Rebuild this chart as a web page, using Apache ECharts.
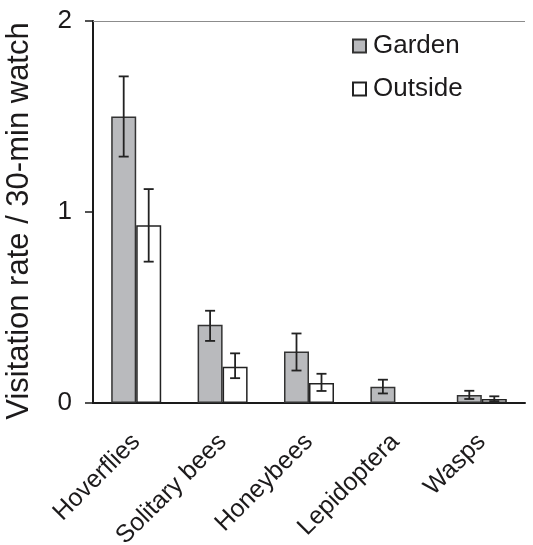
<!DOCTYPE html>
<html>
<head>
<meta charset="utf-8">
<script src="https://cdn.jsdelivr.net/npm/echarts@6/dist/echarts.min.js"></script>
<style>
  html, body { margin: 0; padding: 0; background: #fff; }
  #chart { width: 533px; height: 545px; }
</style>
</head>
<body>
<div id="chart"></div>
<script>
const categories = ['Hoverflies', 'Solitary bees', 'Honeybees', 'Lepidoptera', 'Wasps'];
const garden = [1.5, 0.41, 0.27, 0.085, 0.042];
const gardenLow = [1.29, 0.325, 0.17, 0.05, 0.021];
const gardenHigh = [1.71, 0.483, 0.364, 0.122, 0.064];
const outside = [0.93, 0.19, 0.105, 0, 0.021];
const outsideLow = [0.74, 0.13, 0.063, null, 0.01];
const outsideHigh = [1.12, 0.26, 0.153, null, 0.035];
const yTicks = [0, 1, 2];

const textColor = '#1c1a1b';
const barWidth = 25;

// error bars drawn from the low/high arrays, shifted to each bar's centre
function errorSeries(name, low, high, shift) {
  const data = categories.map((c, i) => low[i] == null ? [i, '-', '-'] : [i, low[i], high[i]]);
  return {
    type: 'custom',
    name: name + ' err',
    z: 10,
    silent: true,
    data: data,
    renderItem: function (params, api) {
      if (isNaN(api.value(1))) return null;
      const lo = api.coord([api.value(0), api.value(1)]);
      const hi = api.coord([api.value(0), api.value(2)]);
      const x = lo[0] + shift;
      const cap = 5;
      const style = { stroke: '#222', lineWidth: 1.8 };
      return {
        type: 'group',
        children: [
          { type: 'line', shape: { x1: x, y1: lo[1], x2: x, y2: hi[1] }, style: style },
          { type: 'line', shape: { x1: x - cap, y1: lo[1], x2: x + cap, y2: lo[1] }, style: style },
          { type: 'line', shape: { x1: x - cap, y1: hi[1], x2: x + cap, y2: hi[1] }, style: style }
        ]
      };
    }
  };
}

const chart = echarts.init(document.getElementById('chart'));
chart.setOption({
  animation: false,
  textStyle: { fontFamily: 'Liberation Sans, Arial, sans-serif', color: textColor },
  grid: { left: 93, top: 21, right: 8, bottom: 142, outerBoundsMode: 'none', containLabel: false },
  legend: {
    orient: 'vertical',
    left: 347,
    top: 27,
    itemWidth: 13,
    itemHeight: 13,
    itemGap: 15,
    icon: 'rect',
    textStyle: { fontSize: 26, lineHeight: 28, color: textColor, padding: [0, 0, 0, 2] },
    data: ['Garden', 'Outside']
  },
  xAxis: {
    type: 'category',
    data: categories,
    axisLine: { lineStyle: { color: '#1a1a1a', width: 2 } },
    axisTick: { length: 8, lineStyle: { color: '#1a1a1a', width: 1.5 } },
    axisLabel: { rotate: 45, fontSize: 25, color: textColor, margin: 35, interval: 0 }
  },
  yAxis: {
    type: 'value',
    min: yTicks[0],
    max: yTicks[yTicks.length - 1],
    interval: 1,
    name: 'Visitation rate / 30-min watch',
    nameLocation: 'middle',
    nameRotate: 90,
    nameGap: 58,
    nameTextStyle: { fontSize: 31, color: textColor, padding: [0, 18, 0, 0] },
    axisLine: { show: true, lineStyle: { color: '#1a1a1a', width: 2 } },
    axisTick: { show: true, length: 8, lineStyle: { color: '#1a1a1a', width: 1.5 } },
    axisLabel: { fontSize: 26, color: textColor, margin: 21 },
    splitLine: { show: false }
  },
  series: [
    {
      name: 'Garden',
      type: 'bar',
      data: garden,
      barWidth: barWidth,
      barGap: '0%',
      itemStyle: { color: '#b9babd', borderColor: '#333', borderWidth: 1.5 },
      markLine: {
        silent: true,
        symbol: 'none',
        label: { show: false },
        lineStyle: { color: '#8c8c8c', width: 1, type: 'solid' },
        data: [{ yAxis: yTicks[yTicks.length - 1] }]
      }
    },
    {
      name: 'Outside',
      type: 'bar',
      data: outside,
      barWidth: barWidth,
      barGap: '0%',
      itemStyle: { color: '#ffffff', borderColor: '#222', borderWidth: 1.5 }
    },
    errorSeries('Garden', gardenLow, gardenHigh, -barWidth / 2),
    errorSeries('Outside', outsideLow, outsideHigh, barWidth / 2)
  ]
});
</script>
</body>
</html>
